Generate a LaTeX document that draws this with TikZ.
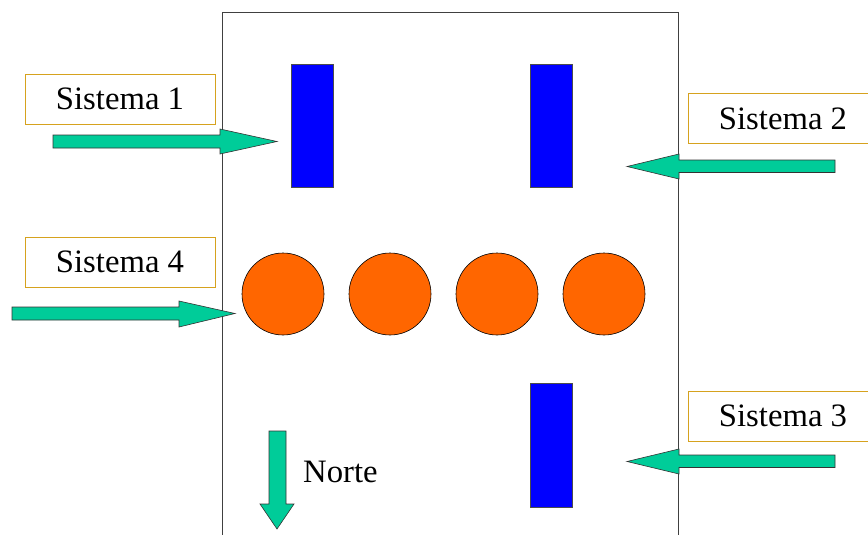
\documentclass[tikz,border=0pt]{standalone}
\usepackage{fontspec}
\setmainfont{Liberation Serif}
\definecolor{arrgreen}{RGB}{0,204,153}
\definecolor{boxgold}{RGB}{214,162,30}
\definecolor{pblue}{RGB}{0,0,255}
\definecolor{porange}{RGB}{255,102,0}
\begin{document}
\begin{tikzpicture}[x=1pt,y=-1pt,
  lbl/.style={draw=boxgold,line width=0.9pt,fill=white,minimum width=190pt,minimum height=50pt,inner sep=0pt,font=\fontsize{32.7}{36}\selectfont},
  blockarrow/.style={fill=arrgreen,draw=black!80,line width=0.6pt},
  bar/.style={fill=pblue,draw=black!70,line width=0.5pt},
  disc/.style={circle,fill=porange,draw=black,line width=0.6pt,minimum size=82pt,inner sep=0pt},
  wall/.style={draw=black!75,line width=0.9pt}]
\useasboundingbox (0,0) rectangle (868,535);
\begin{scope}
\clip (0,0) rectangle (868,535);
% frame (open at bottom)
\draw[wall] (222,540) -- (222,12) -- (678,12) -- (678,540);
% bars
\draw[bar] (291,64) rectangle (333,187);
\draw[bar] (530,64) rectangle (572,187);
\draw[bar] (530,383) rectangle (572,507);
% discs
\node[disc] (c1) at (283,294) {};
\node[disc] (c2) at (390,294) {};
\node[disc] (c3) at (497,294) {};
\node[disc] (c4) at (604,294) {};
% labels
\node[lbl] (s1) at (120,99) {Sistema 1};
\node[lbl] (s4) at (120,262) {Sistema 4};
\node[lbl] (s2) at (783,118.5) {Sistema 2};
\node[lbl] (s3) at (783,416) {Sistema 3};
% arrows
\draw[blockarrow] (53,135) -- (220,135) -- (220,129) -- (277,141.5) -- (220,154) -- (220,148) -- (53,148) -- cycle;
\draw[blockarrow] (12,307) -- (179,307) -- (179,301) -- (235,313.5) -- (179,327) -- (179,320) -- (12,320) -- cycle;
\draw[blockarrow] (835,160) -- (679,160) -- (679,154) -- (627,166.5) -- (679,179) -- (679,172.5) -- (835,172.5) -- cycle;
\draw[blockarrow] (835,455) -- (679,455) -- (679,449) -- (627,461.5) -- (679,474) -- (679,467.5) -- (835,467.5) -- cycle;
\draw[blockarrow] (269,431) -- (286,431) -- (286,504) -- (294,504) -- (277,529) -- (260,504) -- (269,504) -- cycle;
\node[font=\fontsize{32.7}{36}\selectfont,inner sep=0pt,anchor=west] (norte) at (303,472) {Norte};
\end{scope}
\end{tikzpicture}
\end{document}
